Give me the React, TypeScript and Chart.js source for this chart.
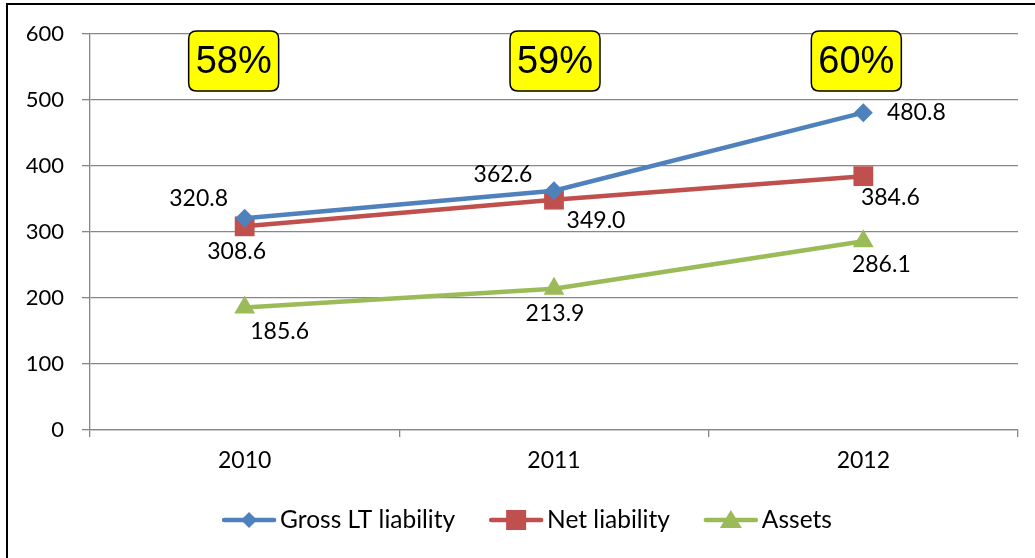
import React, { useEffect, useRef } from 'react';
import { Chart, registerables } from 'chart.js';

Chart.register(...registerables);

const categories = ['2010', '2011', '2012'];
const grossLT = [320.8, 362.6, 480.8];
const netLiability = [308.6, 349.0, 384.6];
const assets = [185.6, 213.9, 286.1];
const ratioLabels = ['58%', '59%', '60%'];
const seriesNames = ['Gross LT liability', 'Net liability', 'Assets'];
const yMin = 0;
const yMax = 600;
const yStep = 100;

const COLORS = ['#4F81BD', '#C0504D', '#9BBB59'];
const GRID = '#878787';
const FONT = 'Lato, "Noto Sans", sans-serif';

// label offsets (px) relative to each point, per series
const LABEL_OFFSETS = [
  [[-46, -20], [-51, -16], [53, 0]],
  [[-8, 25], [42, 21], [27, 21]],
  [[35, 24], [1, 25], [18, 23]],
];
const BOX_OFFSETS = [-11, 1, -7];

function drawMarker(ctx: CanvasRenderingContext2D, shape: string, x: number, y: number, s: number) {
  ctx.beginPath();
  if (shape === 'diamond') {
    ctx.moveTo(x - s, y);
    ctx.lineTo(x, y - s);
    ctx.lineTo(x + s, y);
    ctx.lineTo(x, y + s);
  } else if (shape === 'square') {
    ctx.rect(x - s, y - s, 2 * s, 2 * s);
  } else {
    ctx.moveTo(x, y - s);
    ctx.lineTo(x + s * 1.1, y + s * 0.8);
    ctx.lineTo(x - s * 1.1, y + s * 0.8);
  }
  ctx.closePath();
  ctx.fill();
}

const decorPlugin = {
  id: 'decor',
  afterDatasetsDraw(chart: any) {
    const ctx = chart.ctx as CanvasRenderingContext2D;
    const xs = chart.scales.x;
    const area = chart.chartArea;
    ctx.save();
    // value labels
    ctx.font = `23px ${FONT}`;
    ctx.fillStyle = '#000';
    ctx.textAlign = 'center';
    ctx.textBaseline = 'middle';
    chart.data.datasets.forEach((ds: any, di: number) => {
      const meta = chart.getDatasetMeta(di);
      meta.data.forEach((pt: any, i: number) => {
        const [dx, dy] = LABEL_OFFSETS[di][i];
        ctx.fillText(Number(ds.data[i]).toFixed(1), pt.x + dx, pt.y + dy);
      });
    });
    // percentage boxes
    ratioLabels.forEach((txt, i) => {
      const cx = xs.getPixelForValue(i) + BOX_OFFSETS[i];
      const cy = area.top + 27;
      const w = 90, h = 60, r = 8;
      const x0 = cx - w / 2, y0 = cy - h / 2;
      ctx.beginPath();
      ctx.moveTo(x0 + r, y0);
      ctx.lineTo(x0 + w - r, y0);
      ctx.quadraticCurveTo(x0 + w, y0, x0 + w, y0 + r);
      ctx.lineTo(x0 + w, y0 + h - r);
      ctx.quadraticCurveTo(x0 + w, y0 + h, x0 + w - r, y0 + h);
      ctx.lineTo(x0 + r, y0 + h);
      ctx.quadraticCurveTo(x0, y0 + h, x0, y0 + h - r);
      ctx.lineTo(x0, y0 + r);
      ctx.quadraticCurveTo(x0, y0, x0 + r, y0);
      ctx.closePath();
      ctx.fillStyle = '#FFFF00';
      ctx.fill();
      ctx.lineWidth = 1.5;
      ctx.strokeStyle = '#000';
      ctx.stroke();
      ctx.fillStyle = '#000';
      ctx.font = `38px "Liberation Sans", Arial, sans-serif`;
      ctx.textAlign = 'center';
      ctx.textBaseline = 'middle';
      ctx.fillText(txt, cx, cy + 2);
    });
    ctx.restore();
  },
  afterDraw(chart: any) {
    const ctx = chart.ctx as CanvasRenderingContext2D;
    ctx.save();
    // outer border (top and left)
    ctx.fillStyle = '#000';
    ctx.fillRect(6, 3, 1029, 2);
    ctx.fillRect(6, 3, 2, 555);
    // legend
    const shapes = ['diamond', 'square', 'triangle'];
    const sizes = [8, 10, 10];
    ctx.font = `24.5px ${FONT}`;
    const lineW = 54, gapText = 4, gapItem = 34;
    const widths = seriesNames.map((n) => ctx.measureText(n).width);
    const total = widths.reduce((a, b) => a + b, 0) + seriesNames.length * (lineW + gapText) + gapItem * (seriesNames.length - 1);
    let x = 527 - total / 2;
    const y = 520;
    seriesNames.forEach((name, i) => {
      ctx.strokeStyle = COLORS[i];
      ctx.fillStyle = COLORS[i];
      ctx.lineWidth = 4.5;
      ctx.lineCap = 'round';
      ctx.beginPath();
      ctx.moveTo(x + 2, y);
      ctx.lineTo(x + lineW - 2, y);
      ctx.stroke();
      drawMarker(ctx, shapes[i], x + lineW / 2, y, sizes[i]);
      ctx.fillStyle = '#000';
      ctx.textAlign = 'left';
      ctx.textBaseline = 'middle';
      ctx.fillText(name, x + lineW + gapText, y);
      x += lineW + gapText + widths[i] + gapItem;
    });
    ctx.restore();
  },
};

export default function App() {
  const ref = useRef<HTMLCanvasElement | null>(null);
  useEffect(() => {
    if (!ref.current) return;
    Chart.defaults.font.family = FONT;
    Chart.defaults.color = '#000';
    const chart = new Chart(ref.current, {
      type: 'line',
      data: {
        labels: categories,
        datasets: [
          {
            label: seriesNames[0],
            data: grossLT,
            borderColor: COLORS[0],
            backgroundColor: COLORS[0],
            borderWidth: 4.5,
            pointStyle: 'rectRot',
            pointRadius: 9.5,
            pointBorderWidth: 0,
          },
          {
            label: seriesNames[1],
            data: netLiability,
            borderColor: COLORS[1],
            backgroundColor: COLORS[1],
            borderWidth: 4.5,
            pointStyle: 'rect',
            pointRadius: 14,
            pointBorderWidth: 0,
          },
          {
            label: seriesNames[2],
            data: assets,
            borderColor: COLORS[2],
            backgroundColor: COLORS[2],
            borderWidth: 4.5,
            pointStyle: 'triangle',
            pointRadius: 12,
            pointBorderWidth: 0,
          },
        ],
      },
      options: {
        responsive: false,
        animation: false,
        devicePixelRatio: 1,
        layout: { padding: { left: 0, top: 34, right: 17, bottom: 0 } },
        plugins: {
          legend: { display: false },
          tooltip: { enabled: false },
        },
        scales: {
          x: {
            offset: true,
            grid: {
              offset: true,
              drawOnChartArea: false,
              drawTicks: true,
              tickLength: 7,
              color: GRID,
              lineWidth: 1.3,
            },
            border: { display: true, color: GRID, width: 1.3 },
            ticks: { font: { size: 23, family: FONT }, color: '#000', padding: 10 },
            afterFit: (s: any) => {
              s.height = 128;
            },
          },
          y: {
            min: yMin,
            max: yMax,
            ticks: { stepSize: yStep, font: { size: 22, family: FONT }, color: '#000', padding: 18 },
            grid: { color: GRID, lineWidth: 1.3, tickLength: 8 },
            border: { display: true, color: GRID, width: 1.3 },
            afterFit: (s: any) => {
              s.width = 90;
            },
          },
        },
      },
      plugins: [decorPlugin],
    });
    return () => chart.destroy();
  }, []);
  return (
    <div style={{ position: 'absolute', left: 0, top: 0, width: 1035, height: 558, background: '#fff' }}>
      <canvas ref={ref} width={1035} height={558} style={{ width: 1035, height: 558, display: 'block' }} />
    </div>
  );
}
